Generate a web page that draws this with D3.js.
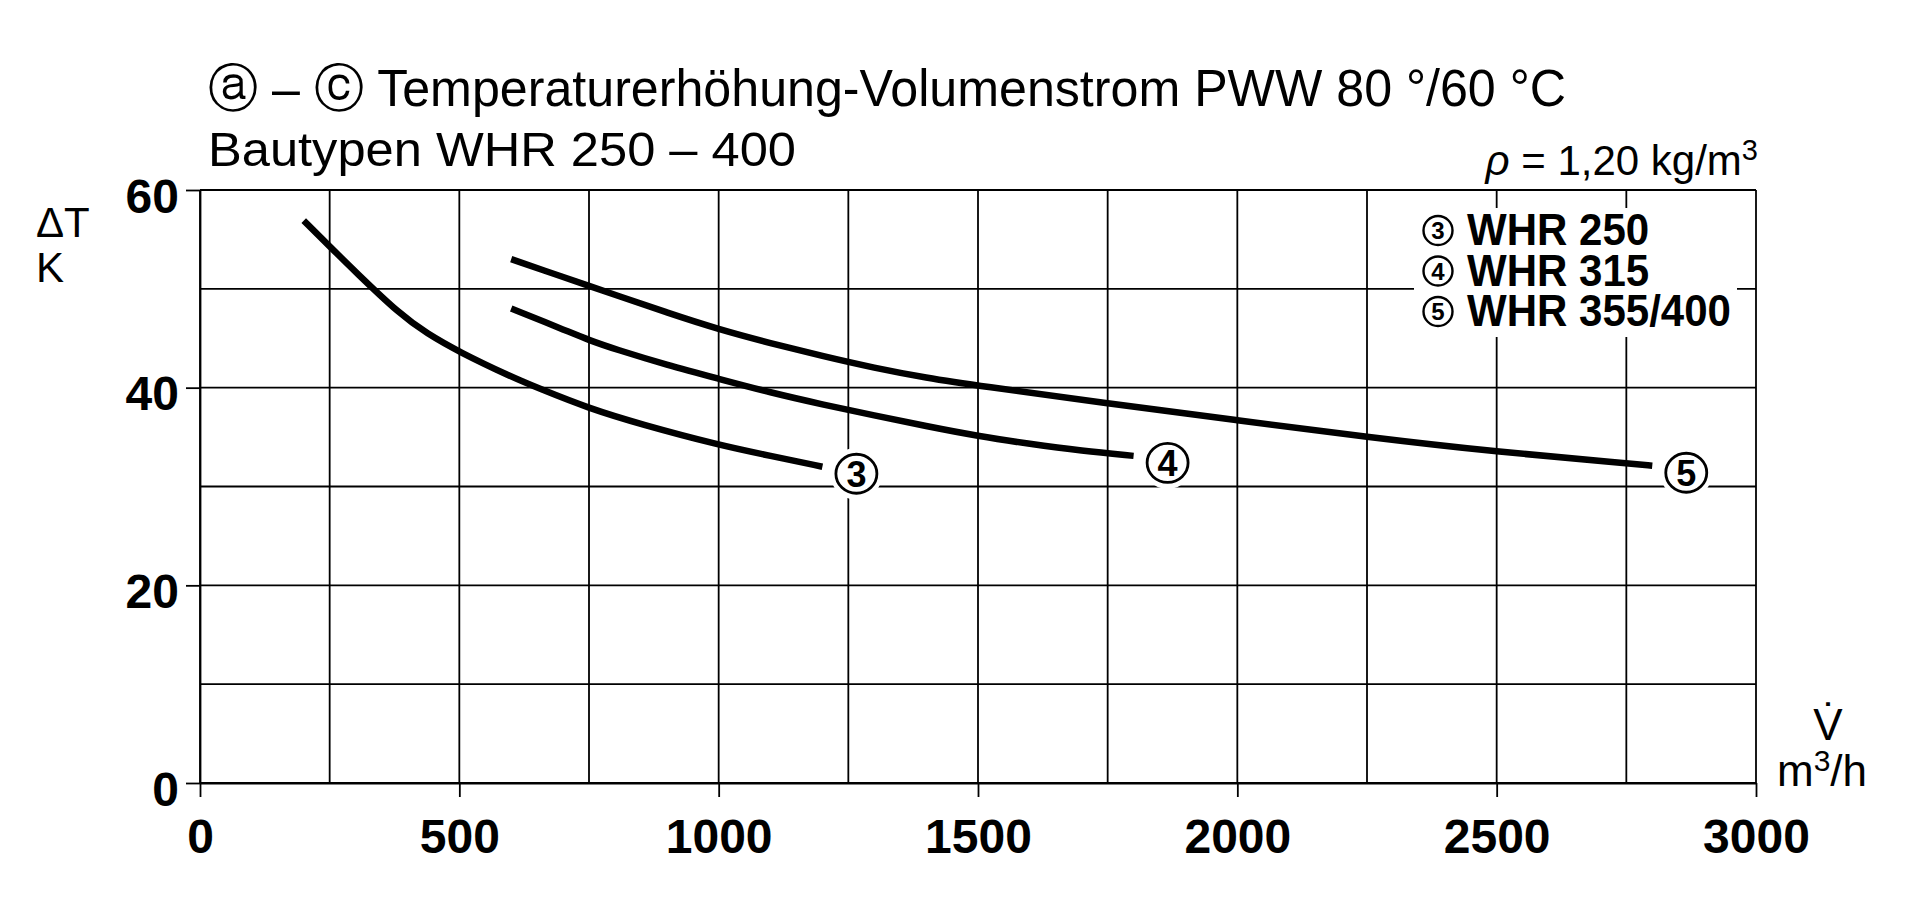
<!DOCTYPE html>
<html><head><meta charset="utf-8">
<script src="https://cdn.jsdelivr.net/npm/d3@7"></script>
<style>
body{margin:0;background:#fff}
svg{display:block}
text{font-family:"Liberation Sans", Arial, "DejaVu Sans", sans-serif; fill:#000}
</style>
</head><body>
<svg id="chart" width="1920" height="905"></svg>
<script>
// ---------- data ----------
const titleText = "ⓐ – ⓒ Temperaturerhöhung-Volumenstrom PWW 80 °/60 °C";
const subtitleText = "Bautypen WHR 250 – 400";
const xTickValues = [0, 500, 1000, 1500, 2000, 2500, 3000];
const yTickValues = [0, 20, 40, 60];
const xGridValues = [0, 250, 500, 750, 1000, 1250, 1500, 1750, 2000, 2250, 2500, 2750, 3000];
const yGridValues = [0, 10, 20, 30, 40, 50, 60];
const seriesNames = ["WHR 250", "WHR 315", "WHR 355/400"];
const seriesNumbers = ["3", "4", "5"];

const flowWHR250 = [200, 250, 300, 386, 437, 500, 600, 650, 750, 850, 1000, 1100, 1200];
const dtWHR250   = [56.9, 54.3, 51.7, 47.4, 45.5, 43.6, 41.1, 40.0, 37.9, 36.3, 34.2, 33.1, 32.0];

const flowWHR315 = [600, 700, 750, 800, 900, 1000, 1100, 1200, 1300, 1400, 1500, 1600, 1700, 1800];
const dtWHR315   = [48.0, 45.9, 44.8, 43.9, 42.3, 40.9, 39.5, 38.3, 37.2, 36.1, 35.1, 34.3, 33.6, 33.1];

const flowWHR355 = [600, 700, 750, 800, 900, 1000, 1100, 1200, 1300, 1400, 1500, 1750, 2000, 2250, 2500, 2750, 2800];
const dtWHR355   = [53.0, 51.2, 50.3, 49.4, 47.6, 45.9, 44.5, 43.2, 42.0, 41.0, 40.2, 38.4, 36.7, 35.0, 33.5, 32.35, 32.1];

// ---------- layout ----------
const svg = d3.select("#chart");
const x = d3.scaleLinear().domain([0, 3000]).range([200, 1756]);
const y = d3.scaleLinear().domain([0, 60]).range([783, 190]);
const gridW = 1.8;

// titles
svg.append("text").attr("x", 208).attr("y", 106)
  .attr("font-size", 52).attr("textLength", 1358).attr("lengthAdjust", "spacingAndGlyphs")
  .text(titleText);
svg.append("text").attr("x", 208).attr("y", 166)
  .attr("font-size", 49).attr("textLength", 588).attr("lengthAdjust", "spacingAndGlyphs")
  .text(subtitleText);
const rho = svg.append("text").attr("x", 1758).attr("y", 175).attr("font-size", 42).attr("text-anchor", "end");
rho.append("tspan").attr("font-style", "italic").text("ρ");
rho.append("tspan").text(" = 1,20 kg/m");
rho.append("tspan").attr("font-size", 29).attr("dy", -15).text("3");

// grid
const grid = svg.append("g").attr("stroke", "#000").attr("stroke-width", gridW);
grid.selectAll("line.v").data(xGridValues).join("line").attr("class", "v")
  .attr("x1", d => x(d)).attr("x2", d => x(d)).attr("y1", y(60)).attr("y2", y(0));
grid.selectAll("line.h").data(yGridValues).join("line").attr("class", "h")
  .attr("x1", x(0)).attr("x2", x(3000)).attr("y1", d => y(d)).attr("y2", d => y(d));

// axes
const xAxis = svg.append("g").attr("transform", `translate(0,${y(0)})`)
  .call(d3.axisBottom(x).tickValues(xTickValues).tickSize(14).tickSizeOuter(0).tickPadding(22).tickFormat(d3.format("d")));
const yAxis = svg.append("g").attr("transform", `translate(${x(0)},0)`)
  .call(d3.axisLeft(y).tickValues(yTickValues).tickSize(14).tickSizeOuter(0).tickPadding(7).tickFormat(d3.format("d")));
[xAxis, yAxis].forEach(a => {
  a.select(".domain").attr("stroke", "#000").attr("stroke-width", gridW);
  a.selectAll(".tick line").attr("stroke", "#000").attr("stroke-width", gridW);
  a.selectAll(".tick text").attr("font-size", 48).attr("font-weight", "bold")
    .attr("font-family", "'Liberation Sans', Arial, sans-serif").attr("fill", "#000");
});
yAxis.selectAll(".tick text").attr("dy", "0.46em");

// axis titles
svg.append("text").attr("x", 36).attr("y", 237).attr("font-size", 42).text("ΔT");
svg.append("text").attr("x", 36).attr("y", 282).attr("font-size", 42).text("K");
svg.append("text").attr("x", 1828).attr("y", 740).attr("font-size", 44).attr("text-anchor", "middle")
  .attr("font-family", "'DejaVu Sans', sans-serif").text("V\u0307");
const unit = svg.append("text").attr("x", 1777).attr("y", 786).attr("font-size", 44);
unit.append("tspan").text("m");
unit.append("tspan").attr("font-size", 30).attr("dy", -15).text("3");
unit.append("tspan").attr("dy", 15).text("/h");

// legend box (white background interrupts grid)
svg.append("rect").attr("x", 1414).attr("y", 208).attr("width", 323).attr("height", 129).attr("fill", "#fff");
const legendBaselines = [245, 285.5, 326];
const legTexts = [];
seriesNames.forEach((name, i) => {
  const by = legendBaselines[i];
  svg.append("circle").attr("cx", 1438).attr("cy", by - 14.5).attr("r", 14.5)
    .attr("fill", "#fff").attr("stroke", "#000").attr("stroke-width", 2.4);
  svg.append("text").attr("x", 1438).attr("y", by - 14.5).attr("dy", "0.36em").attr("text-anchor", "middle")
    .attr("font-size", 24).attr("font-weight", "bold").text(seriesNumbers[i]);
  legTexts.push(svg.append("text").attr("x", 1467).attr("y", by).attr("font-size", 44).attr("font-weight", "bold").text(name));
});
const refLen = legTexts[2].node().getComputedTextLength();
const factor = 264 / refLen;
legTexts.forEach(t => {
  const l = t.node().getComputedTextLength();
  t.attr("textLength", l * factor).attr("lengthAdjust", "spacingAndGlyphs");
});

// curves
const series = [
  {flow: flowWHR250, dt: dtWHR250},
  {flow: flowWHR315, dt: dtWHR315},
  {flow: flowWHR355, dt: dtWHR355}
];
const line = d3.line().x(d => x(d[0])).y(d => y(d[1])).curve(d3.curveBasis);
series.forEach((s, i) => {
  const pts = s.flow.map((f, j) => [f, s.dt[j]]);
  svg.append("path").datum(pts).attr("d", line)
    .attr("fill", "none").attr("stroke", "#000").attr("stroke-width", 6.5).attr("stroke-linecap", "butt");
  const last = pts[pts.length - 1];
  const cx = x(last[0]) + 34, cy = y(last[1]) + 7;
  svg.append("circle").attr("cx", cx).attr("cy", cy).attr("r", 26).attr("fill", "#fff");
  svg.append("ellipse").attr("cx", cx).attr("cy", cy).attr("rx", 20.5).attr("ry", 19.5)
    .attr("fill", "#fff").attr("stroke", "#000").attr("stroke-width", 2.8);
  svg.append("text").attr("x", cx).attr("y", cy).attr("dy", "0.36em").attr("text-anchor", "middle")
    .attr("font-size", 36).attr("font-weight", "bold").text(seriesNumbers[i]);
});
</script>
</body></html>
